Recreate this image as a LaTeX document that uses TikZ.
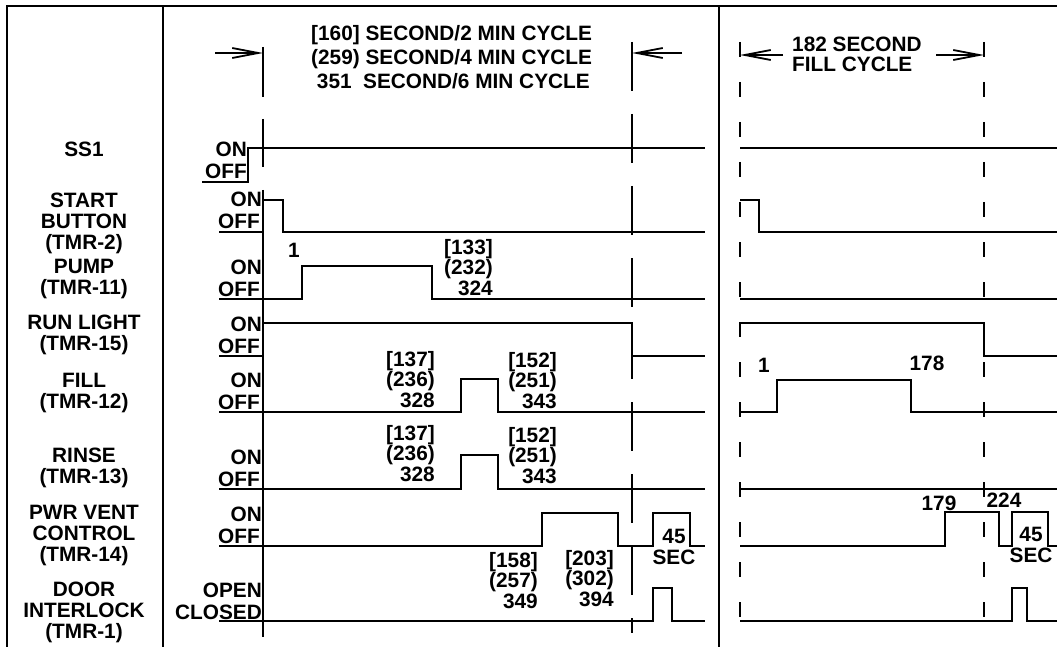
\documentclass[tikz,border=0pt]{standalone}
\usepackage{fontspec}
\setmainfont{Liberation Sans}
\usepackage{tikz}
\usetikzlibrary{arrows.meta}

\begin{document}
\begin{tikzpicture}[
    x=1pt, y=-1pt,
    lbl/.style={font=\fontsize{20.8}{21}\selectfont\bfseries, inner sep=0pt},
    num/.style={lbl, font=\fontsize{20.8}{20.5}\selectfont\bfseries},
    sname/.style={lbl, align=center, anchor=north},
    frame/.style={line width=2.6pt},
    sig/.style={line width=2.4pt},
    cyc/.style={line width=2.6pt, dash pattern=on 49pt off 23pt},
    fillcyc/.style={line width=2.6pt, dash pattern=on 15pt off 25pt},
    dim/.style={line width=1.8pt, -{Straight Barb[length=26pt,width=10pt]}}
]
\useasboundingbox (0,0) rectangle (1057,647);

% Frame and column dividers
\draw[frame] (7,647) -- (7,6) -- (1057,6);
\draw[frame] (163,6) -- (163,647);
\draw[frame] (719,6) -- (719,647);

% Signal names
\node[sname] (ss1) at (84,142) {SS1};
\node[sname] (startbtn) at (84,193) {START\\BUTTON\\(TMR-2)};
\node[sname] (pump) at (84,259) {PUMP\\(TMR-11)};
\node[sname] (runlight) at (84,315) {RUN LIGHT\\(TMR-15)};
\node[sname] (fill) at (84,373) {FILL\\(TMR-12)};
\node[sname] (rinse) at (84,448) {RINSE\\(TMR-13)};
\node[sname] (pwrvent) at (84,505) {PWR VENT\\CONTROL\\(TMR-14)};
\node[sname] (door) at (84,582) {DOOR\\INTERLOCK\\(TMR-1)};

% ON / OFF states
\node[lbl, anchor=base east] (ss1on) at (247,157) {ON};
\node[lbl, anchor=base east] (ss1off) at (247,179) {OFF};
\foreach \low/\nm in {232/start, 299/pump, 356/run, 412/fill, 489/rinse, 546/pwr}{
  \node[lbl, anchor=base east] (\nm on) at (262,\low-25) {ON};
  \node[lbl, anchor=base east] (\nm off) at (260,\low-3) {OFF};
}
\node[lbl, anchor=base east] (dooropen) at (262,597) {OPEN};
\node[lbl, anchor=base east] (doorclosed) at (262,619) {CLOSED};

% Main cycle limits
\draw[frame, dash pattern=on 50pt off 22pt] (263,47) -- (263,167);
\draw[frame] (263,190) -- (263,637);
\draw[cyc] (632,42) -- (632,633);
\draw[dim] (215,53) -- (263,53);
\draw[dim] (682,53) -- (632,53);
\node[lbl, align=left, anchor=north west, font=\fontsize{20.8}{24}\selectfont\bfseries] (maincycle) at (311,25)
    {[160] SECOND/2 MIN CYCLE\\(259) SECOND/4 MIN CYCLE\\\ 351\ \ SECOND/6 MIN CYCLE};

% Main cycle waveforms
\draw[sig] (202,182) -- (248,182) -- (248,148) -- (705,148);
\draw[sig] (219,232) -- (263,232);
\draw[sig] (263,200) -- (283,200) -- (283,232) -- (705,232);
\draw[sig] (219,299) -- (302,299) -- (302,266) -- (432,266) -- (432,299) -- (705,299);
\draw[sig] (219,356) -- (263,356);
\draw[sig] (263,323) -- (632,323) -- (632,356) -- (705,356);
\draw[sig] (219,412) -- (461,412) -- (461,379) -- (498,379) -- (498,412) -- (705,412);
\draw[sig] (219,489) -- (461,489) -- (461,455) -- (498,455) -- (498,489) -- (705,489);
\draw[sig] (219,546) -- (542,546) -- (542,513) -- (618,513) -- (618,546) -- (653,546)
    -- (653,513) -- (690,513) -- (690,546) -- (705,546);
\draw[sig] (219,621) -- (653,621) -- (653,588) -- (672,588) -- (672,621) -- (705,621);

% Main cycle times
\node[num, anchor=base] (pumpon) at (294,257) {1};
\node[num, align=right, anchor=north east] (pumpoff) at (493,239) {[133]\\(232)\\324};
\node[num, align=right, anchor=north east] (fillon) at (435,351) {[137]\\(236)\\328};
\node[num, align=right, anchor=north east] (filloff) at (557,352) {[152]\\(251)\\343};
\node[num, align=right, anchor=north east] (rinseon) at (435,425) {[137]\\(236)\\328};
\node[num, align=right, anchor=north east] (rinseoff) at (557,427) {[152]\\(251)\\343};
\node[num, align=right, anchor=north east] (venton) at (538,552) {[158]\\(257)\\349};
\node[num, align=right, anchor=north east] (ventoff) at (614,550) {[203]\\(302)\\394};
\node[num, align=center, anchor=north] (ventsec) at (674,529) {45\\SEC};

% Fill cycle limits
\draw[fillcyc] (740,42) -- (740,622);
\draw[fillcyc] (984,42) -- (984,622);
\draw[dim] (783,55) -- (740,55);
\draw[dim] (936,55) -- (984,55);
\node[lbl, align=left, anchor=north west, font=\fontsize{20.8}{20}\selectfont\bfseries] (fillcycle) at (792,37)
    {182 SECOND\\FILL CYCLE};

% Fill cycle waveforms
\draw[sig] (740,148) -- (1057,148);
\draw[sig] (740,200) -- (759,200) -- (759,232) -- (1057,232);
\draw[sig] (740,299) -- (1057,299);
\draw[sig] (740,323) -- (984,323) -- (984,356) -- (1057,356);
\draw[sig] (740,412) -- (777,412) -- (777,380) -- (911,380) -- (911,412) -- (1057,412);
\draw[sig] (740,489) -- (1057,489);
\draw[sig] (740,546) -- (945,546) -- (945,512) -- (999,512) -- (999,546) -- (1012,546)
    -- (1012,512) -- (1048,512) -- (1048,546) -- (1057,546);
\draw[sig] (740,621) -- (1012,621) -- (1012,588) -- (1027,588) -- (1027,621) -- (1057,621);

% Fill cycle times
\node[num, anchor=base] (fillstart) at (764,372) {1};
\node[num, anchor=base] (fillend) at (927,370) {178};
\node[num, anchor=base] (ventstart) at (939,510) {179};
\node[num, anchor=base] (ventend) at (1004,507) {224};
\node[num, align=center, anchor=north] (fillsec) at (1031,527) {45\\SEC};
\end{tikzpicture}
\end{document}
